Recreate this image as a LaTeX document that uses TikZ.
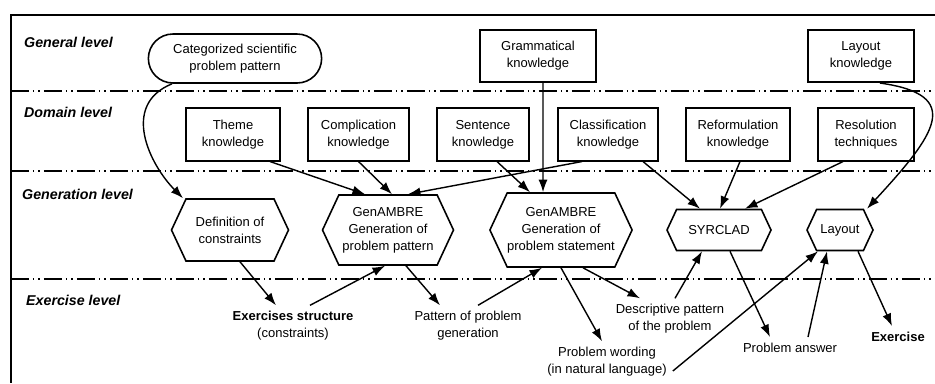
\documentclass[tikz,border=0pt]{standalone}
\usepackage{fontspec}
\setmainfont{Liberation Sans}
\usetikzlibrary{shapes,arrows.meta,positioning}

\begin{document}
\begin{tikzpicture}[x=0.02cm,y=-0.02cm,
                font=\fontsize{7.4}{9.6}\selectfont,
                levelname/.style={font=\fontsize{8.1}{10}\selectfont\bfseries\itshape,anchor=west},
                levelline/.style={line width=1pt,dash pattern=on 0.36cm off 0.08cm on 0.03cm off 0.08cm on 0.03cm off 0.08cm},
                knowbox/.style={draw,line width=0.9pt,align=center,minimum height=1.05cm,inner xsep=0.1cm},
                process/.style={draw,line width=0.9pt,align=center,shape=signal,signal to=east and west,
                               signal pointer angle=130,inner sep=0pt},
                result/.style={align=center},
                flow/.style={-{Latex[length=2.5mm,width=1.8mm]},line width=0.8pt}
            ]
                \useasboundingbox (0,0) rectangle (935,383);
                % frame and levels
                \draw[line width=1.6pt] (935,15) -- (11,15) -- (11,383);
                \draw[levelline] (11,91) -- (935,91);
                \draw[levelline] (11,171) -- (935,171);
                \draw[levelline] (11,279) -- (935,279);
                \node[levelname] (lvgen) at (18,42) {General level};
                \node[levelname] (lvdom) at (18,112) {Domain level};
                \node[levelname] (lvgnr) at (16,194) {Generation level};
                \node[levelname] (lvexe) at (20,300) {Exercise level};
                % general level
                \node[draw,line width=0.9pt,align=center,shape=rounded rectangle,minimum width=3.7cm,minimum height=0.98cm] (pattern) at (235,58.5) {Categorized scientific\\problem pattern};
                \node[knowbox,minimum width=2.32cm] (gram) at (538,56) {Grammatical\\knowledge};
                \node[knowbox,minimum width=2.12cm] (laykn) at (861,56) {Layout\\knowledge};
                % domain level
                \node[knowbox,minimum width=1.88cm] (theme) at (233,134.5) {Theme\\knowledge};
                \node[knowbox,minimum width=2.02cm] (compl) at (358.5,134.5) {Complication\\knowledge};
                \node[knowbox,minimum width=1.84cm] (sent) at (483,134.5) {Sentence\\knowledge};
                \node[knowbox,minimum width=2.0cm] (classif) at (608,134.5) {Classification\\knowledge};
                \node[knowbox,minimum width=2.08cm] (reform) at (738,134.5) {Reformulation\\knowledge};
                \node[knowbox,minimum width=1.92cm] (resol) at (866,134.5) {Resolution\\techniques};
                % generation level
                \node[process,minimum width=2.34cm,minimum height=1.24cm] (defc) at (230,230) {Definition of\\constraints};
                \node[process,minimum width=2.62cm,minimum height=1.4cm] (genpat) at (388,230) {GenAMBRE\\Generation of\\problem pattern};
                \node[process,minimum width=2.84cm,minimum height=1.48cm] (genstat) at (561,230) {GenAMBRE\\Generation of\\problem statement};
                \node[process,minimum width=2.08cm,minimum height=0.82cm] (syrclad) at (719,230) {SYRCLAD};
                \node[process,minimum width=1.32cm,minimum height=0.82cm] (layout) at (840,230) {Layout};
                % exercise level
                \node[result] (exstruct) at (293,326) {\textbf{Exercises structure}\\(constraints)};
                \node[result] (patgen) at (468,326) {Pattern of problem\\generation};
                \node[result] (wording) at (607,362) {Problem wording\\(in natural language)};
                \node[result] (descr) at (670,319) {Descriptive pattern\\of the problem};
                \node[result] (answer) at (790,348) {Problem answer};
                \node[result] (exercise) at (898,337) {\textbf{Exercise}};
                % connectors
                \draw[flow] ([xshift=-1.26cm]pattern.south) .. controls (120,105) and (150,165) .. ([xshift=-0.94cm]defc.north);
                \draw[flow] ([xshift=0.74cm]theme.south) -- ([xshift=-0.46cm]genpat.north);
                \draw[flow] (compl.south) -- ([xshift=0.08cm]genpat.north);
                \draw[flow] ([xshift=-0.52cm]classif.south) -- ([xshift=0.4cm]genpat.north);
                \draw[flow] ([xshift=0.28cm]sent.south) -- ([xshift=-0.62cm]genstat.north);
                \draw[flow] ([xshift=0.1cm]gram.south) -- ([xshift=-0.36cm]genstat.north);
                \draw[flow] ([xshift=0.7cm]classif.south) -- ([xshift=-0.38cm]syrclad.north);
                \draw[flow] ([xshift=0.04cm]reform.south) -- ([xshift=0.02cm]syrclad.north);
                \draw[flow] ([xshift=-0.46cm]resol.south) -- ([xshift=0.52cm]syrclad.north);
                \draw[flow] ([xshift=0.38cm]laykn.south) .. controls (965,95) and (935,135) .. ([xshift=0.54cm]layout.north);
                \draw[flow] ([xshift=0.2cm]defc.south) -- ([xshift=-0.34cm]exstruct.north);
                \draw[flow] ([xshift=0.34cm]exstruct.north) -- ([xshift=-0.06cm]genpat.south);
                \draw[flow] ([xshift=0.36cm]genpat.south) -- ([xshift=-0.56cm]patgen.north);
                \draw[flow] ([xshift=0.2cm]patgen.north) -- ([xshift=-0.38cm]genstat.south);
                \draw[flow] (genstat.south) -- ([xshift=-0.1cm]wording.north);
                \draw[flow] ([xshift=0.44cm]genstat.south) -- ([xshift=-0.6cm]descr.north);
                \draw[flow] ([xshift=0.1cm]descr.north) -- ([xshift=-0.34cm]syrclad.south);
                \draw[flow] ([xshift=0.22cm]syrclad.south) -- ([xshift=-0.4cm]answer.north);
                \draw[flow] ([yshift=-0.18cm]wording.east) -- ([xshift=-0.44cm]layout.south);
                \draw[flow] ([xshift=0.36cm]answer.north) -- ([xshift=-0.26cm]layout.south);
                \draw[flow] ([xshift=0.36cm]layout.south) -- ([xshift=-0.12cm]exercise.north);
            \end{tikzpicture}
\end{document}
